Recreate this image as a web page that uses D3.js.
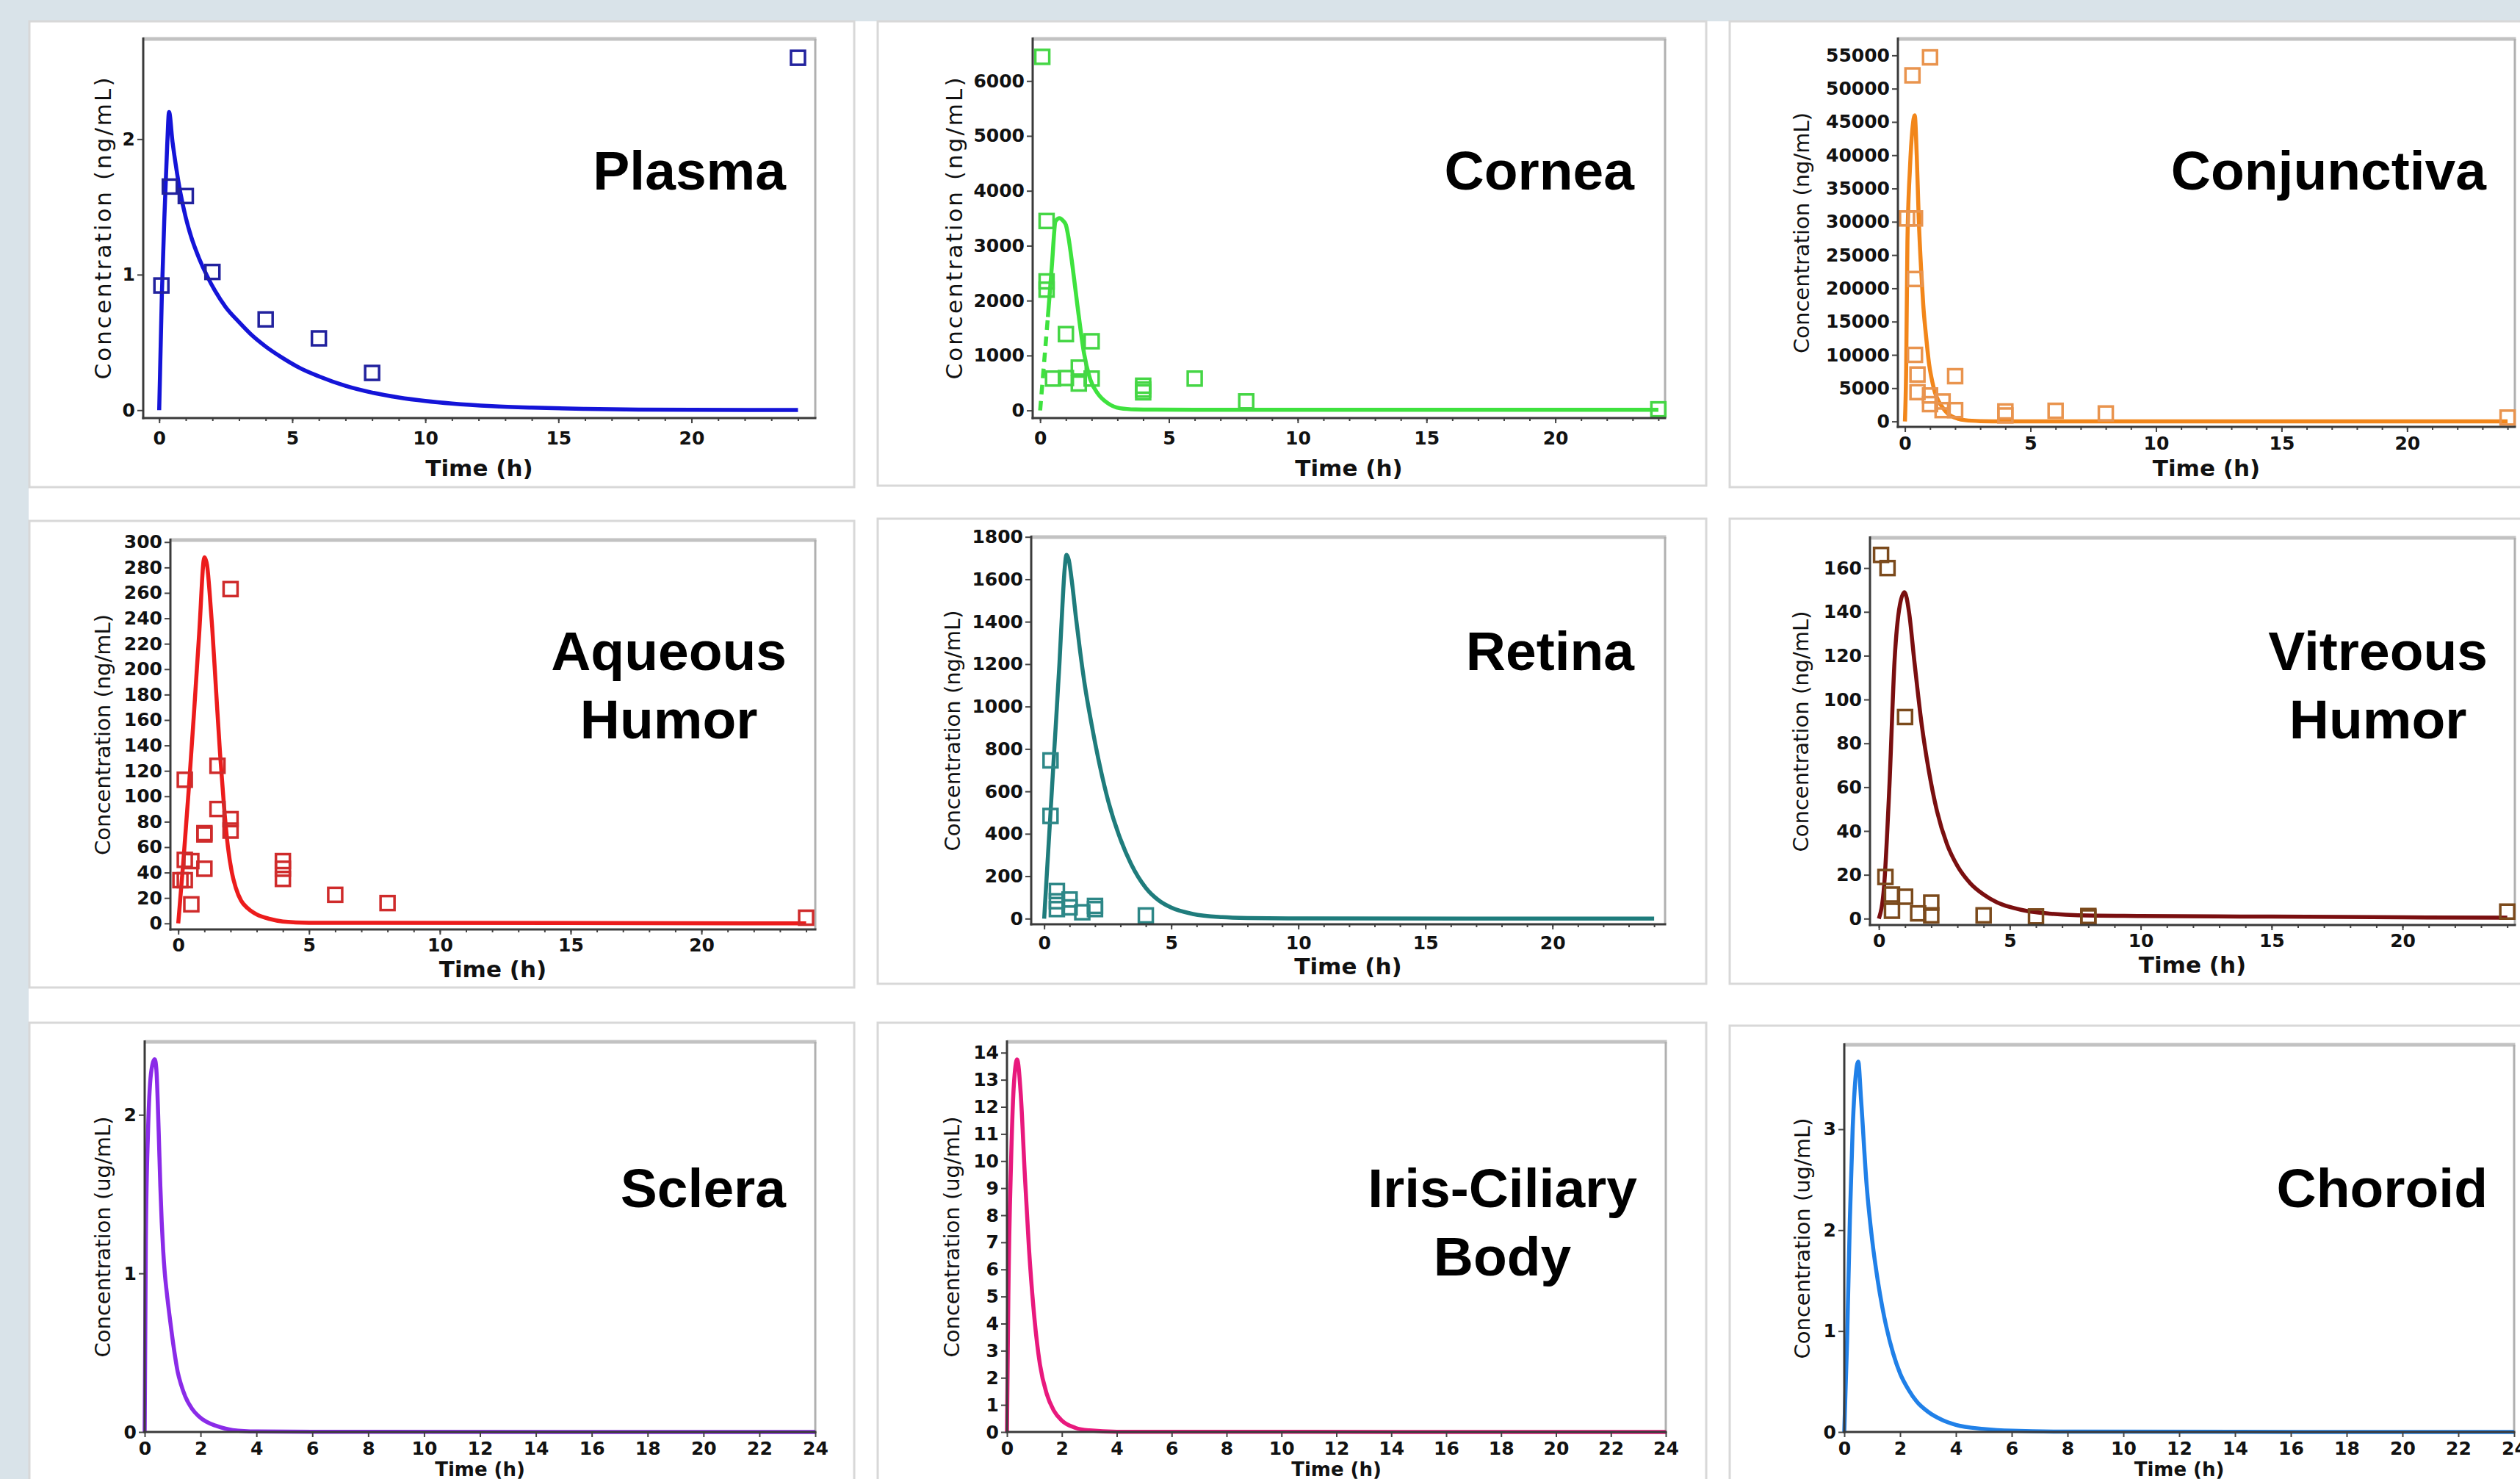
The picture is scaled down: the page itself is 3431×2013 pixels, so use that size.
<!DOCTYPE html>
<html><head><meta charset="utf-8">
<script src="https://cdn.jsdelivr.net/npm/d3@7"></script>
<style>
html,body{margin:0;padding:0;background:#fff;overflow:hidden;}
svg{display:block;}
</style></head><body>
<svg id="chart" width="3431" height="2013"></svg>
<script>
// ---------------- DATA ----------------
const tissueTitles = [["Plasma"],["Cornea"],["Conjunctiva"],["Aqueous","Humor"],["Retina"],["Vitreous","Humor"],["Sclera"],["Iris-Ciliary","Body"],["Choroid"]];
const yAxisTitles = ["Concentration (ng/mL)","Concentration (ng/mL)","Concentration (ng/mL)","Concentration (ng/mL)","Concentration (ng/mL)","Concentration (ng/mL)","Concentration (ug/mL)","Concentration (ug/mL)","Concentration (ug/mL)"];
const xAxisTitle = "Time (h)";

const timeTicksCoarse = [0,5,10,15,20];
const timeTicksFine = [0,2,4,6,8,10,12,14,16,18,20,22,24];
const timeMinorTicks = [0,1,2,3,4,5,6,7,8,9,10,11,12,13,14,15,16,17,18,19,20,21,22,23,24];

const plasmaYTicks = [0,1,2];
const corneaYTicks = [0,1000,2000,3000,4000,5000,6000];
const conjYTicks = [0,5000,10000,15000,20000,25000,30000,35000,40000,45000,50000,55000];
const aqueousYTicks = [0,20,40,60,80,100,120,140,160,180,200,220,240,260,280,300];
const retinaYTicks = [0,200,400,600,800,1000,1200,1400,1600,1800];
const vitreousYTicks = [0,20,40,60,80,100,120,140,160];
const scleraYTicks = [0,1,2];
const irisYTicks = [0,1,2,3,4,5,6,7,8,9,10,11,12,13,14];
const choroidYTicks = [0,1,2,3];

// observed
const plasmaObsTime = [0.083,0.4,1,2,4,6,8,24];
const plasmaObsConc = [0.92,1.65,1.58,1.02,0.67,0.53,0.275,2.6];
const corneaObsTime = [0.083,0.25,0.25,0.25,0.5,1,1,1.5,1.5,2,2,4,4,4,6,8,24];
const corneaObsConc = [6440,3450,2350,2200,580,590,1390,780,490,1260,580,450,380,330,580,165,20];
const conjObsTime = [0.3,1,0.083,0.4,0.4,0.4,0.5,0.5,1,1,1.5,1.5,2,2,4,4,6,8,24];
const conjObsConc = [52000,54700,30500,30500,21400,10000,7050,4400,3900,2600,3000,1700,6800,1700,1500,900,1600,1200,580];
const aqueousObsTime = [2,0.25,1.5,1.5,2,2,1,1,0.25,0.5,1,0.083,0.25,0.5,4,4,4,6,8,24];
const aqueousObsConc = [263,113,124,90,82,73,71,70,50,49,43,34,34,15,49,43,35,22.5,16,4.5];
const retinaObsTime = [0.25,0.25,0.5,0.5,0.5,1,1,1.5,2,2,4];
const retinaObsConc = [746,484,130,82,45,90,53,30,45,60,15];
const vitreousObsTime = [0.083,0.33,1,0.25,0.5,0.5,1,1.5,2,2,4,6,8,8,24];
const vitreousObsConc = [166,160,92,19,11,3.6,10,2.4,7.3,1.5,1.5,1,0.6,1.2,3.2];

// predicted
const plasmaPredTime = [0,0.1,0.2,0.3,0.37,0.5,0.6,0.8,1.0,1.2,1.5,1.8,2.1,2.5,3,3.5,4,4.6,5.3,6,7,8,9,10,11,12.5,14,16,18,20,24];
const plasmaPredConc = [0,0.85,1.45,1.95,2.2,1.98,1.84,1.6,1.42,1.28,1.12,0.99,0.88,0.76,0.65,0.55,0.47,0.39,0.31,0.25,0.18,0.13,0.094,0.068,0.049,0.03,0.019,0.01,0.005,0.0027,0.001];
const corneaPredTime = [0,0.15,0.3,0.45,0.6,0.75,0.9,1.0,1.1,1.25,1.45,1.7,1.95,2.25,2.6,3.1,3.7,4.5,6,10,24];
const corneaPredConc = [0,850,1700,2600,3450,3500,3450,3380,3150,2650,1900,1050,560,300,140,40,18,14,12,12,12];
const conjPredTime = [0,0.05,0.1,0.2,0.3,0.39,0.47,0.55,0.65,0.73,0.85,0.96,1.1,1.2,1.35,1.5,1.7,1.85,2.1,2.4,3,4,24];
const conjPredConc = [0,8000,27000,38000,44000,46000,40000,30500,22500,17500,12500,8700,5800,4300,3000,2100,1200,800,420,190,50,10,0];
const aqueousPredTime = [0,0.2,0.4,0.6,0.8,1.0,1.1,1.2,1.3,1.45,1.6,1.75,1.9,2.05,2.2,2.4,2.65,3,3.5,4,5,24];
const aqueousPredConc = [0,50,105,165,228,288,282,260,232,182,133,92,60,40,28,18,12,7,3.5,1.5,0.5,0];
const retinaPredTime = [0,0.2,0.4,0.6,0.72,0.8,0.88,0.97,1.1,1.25,1.42,1.6,1.86,2.2,2.53,3,3.41,4,4.52,5,5.85,7,8,10,24];
const retinaPredConc = [0,400,800,1200,1480,1640,1715,1690,1580,1420,1255,1100,920,715,550,375,260,145,85,52,22,7,3,1,0];
const vitreousPredTime = [0,0.2,0.4,0.6,0.8,0.98,1.15,1.35,1.63,1.9,2.22,2.6,3,3.5,4,4.5,5,5.6,6.5,7.6,10,15,20,24];
const vitreousPredConc = [0,15,60,118,143,149,140,118,89,68,49,34,24,16,11,7.5,5.3,3.6,2.3,1.5,1.2,0.9,0.6,0.4];
const scleraPredTime = [0,0.04,0.12,0.24,0.36,0.42,0.5,0.56,0.61,0.66,0.72,0.79,0.92,1.05,1.18,1.3,1.45,1.7,1.93,2.2,2.54,3.15,4,6,24];
const scleraPredConc = [0,1.2,1.9,2.28,2.35,2.28,1.9,1.55,1.32,1.15,1.0,0.88,0.69,0.52,0.38,0.3,0.225,0.145,0.1,0.065,0.04,0.012,0.003,0.001,0];
const irisPredTime = [0,0.05,0.15,0.25,0.37,0.5,0.65,0.8,1.0,1.2,1.45,1.7,2,2.5,3,4,24];
const irisPredConc = [0,5,10,12.8,13.75,12.5,9.5,6.8,4.2,2.5,1.4,0.8,0.42,0.15,0.06,0.01,0];
const choroidPredTime = [0,0.1,0.2,0.3,0.4,0.5,0.6,0.8,1.0,1.2,1.5,1.75,2.0,2.3,2.6,3,3.5,4,5,6,8,24];
const choroidPredConc = [0,0.9,2.1,3.0,3.5,3.67,3.3,2.45,1.9,1.5,1.05,0.78,0.58,0.42,0.3,0.2,0.12,0.07,0.03,0.012,0.003,0];

// ---------------- LAYOUT / STYLE ----------------
const panels = [
 {box:[40,29,1163,663], plot:[195,53,1110,569], xd:[-0.6,24.65], yd:[-0.058,2.739], yT:plasmaYTicks, xT:timeTicksCoarse, minor:true,
  oT:plasmaObsTime, oC:plasmaObsConc, pT:plasmaPredTime, pC:plasmaPredConc, line:"#1414d8", mark:"#22229e",
  titleRight:1070, titleBase:258, yLabX:140, yLabLen:411, tickBase:36, xLabBase:79, xLabSize:31},
 {box:[1195,29,2323,661], plot:[1406,53,2267,569], xd:[-0.29,24.26], yd:[-139,6766], yT:corneaYTicks, xT:timeTicksCoarse, minor:true,
  oT:corneaObsTime, oC:corneaObsConc, pT:corneaPredTime, pC:corneaPredConc, line:"#3ee23e", mark:"#45d645", dashUntil:0.3,
  titleRight:2225, titleBase:258, yLabX:1299, yLabLen:411, tickBase:36, xLabBase:79, xLabSize:31},
 {box:[2355,29,3445,663], plot:[2584,53,3424,581], xd:[-0.28,24.29], yd:[-817,57470], yT:conjYTicks, xT:timeTicksCoarse, minor:true,
  oT:conjObsTime, oC:conjObsConc, pT:conjPredTime, pC:conjPredConc, line:"#f2861a", mark:"#e9944e",
  titleRight:3385, titleBase:258, yLabX:2453, tickBase:30.5, xLabBase:67, xLabSize:31},
 {box:[40,709,1163,1344], plot:[232,735,1110,1265], xd:[-0.3,24.35], yd:[-4.74,301.6], yT:aqueousYTicks, xT:timeTicksCoarse, minor:true,
  oT:aqueousObsTime, oC:aqueousObsConc, pT:aqueousPredTime, pC:aqueousPredConc, line:"#ec1c1c", mark:"#cf2b2b",
  titleRight:1071, titleBase:912, yLabX:140, tickBase:30, xLabBase:65, xLabSize:31},
 {box:[1195,706,2323,1339], plot:[1404,731,2267,1258], xd:[-0.51,24.43], yd:[-26.7,1799], yT:retinaYTicks, xT:timeTicksCoarse, minor:true,
  oT:retinaObsTime, oC:retinaObsConc, pT:retinaPredTime, pC:retinaPredConc, line:"#1f7c7c", mark:"#2d8787",
  titleRight:2225, titleBase:912, yLabX:1297, tickBase:34, xLabBase:68, xLabSize:31},
 {box:[2355,706,3445,1339], plot:[2546,732,3424,1259], xd:[-0.34,24.29], yd:[-2.92,173.8], yT:vitreousYTicks, xT:timeTicksCoarse, minor:true,
  oT:vitreousObsTime, oC:vitreousObsConc, pT:vitreousPredTime, pC:vitreousPredConc, line:"#7a0f10", mark:"#7b4a1c",
  titleRight:3387, titleBase:912, yLabX:2452, tickBase:30, xLabBase:65, xLabSize:31},
 {box:[40,1392,1163,2040], plot:[197,1418,1110,1949], xd:[0,24], yd:[0,2.46], yT:scleraYTicks, xT:timeTicksFine, minor:false,
  pT:scleraPredTime, pC:scleraPredConc, line:"#8a2be8",
  titleRight:1070, titleBase:1643, yLabX:140, tickBase:31, xLabBase:59.5, xLabSize:26},
 {box:[1195,1392,2323,2040], plot:[1371,1418,2268,1949], xd:[0,24], yd:[0,14.4], yT:irisYTicks, xT:timeTicksFine, minor:false,
  pT:irisPredTime, pC:irisPredConc, line:"#e8197d",
  titleRight:2229, titleBase:1643, yLabX:1296, tickBase:31, xLabBase:59.5, xLabSize:26},
 {box:[2355,1396,3445,2040], plot:[2511,1422,3423,1949], xd:[0,24], yd:[0,3.837], yT:choroidYTicks, xT:timeTicksFine, minor:false,
  pT:choroidPredTime, pC:choroidPredConc, line:"#2080e8",
  titleRight:3387, titleBase:1643, yLabX:2454, tickBase:31, xLabBase:59.5, xLabSize:26}
];

const W = 3431, H = 2013;
const svg = d3.select("#chart");
svg.append("rect").attr("width",W).attr("height",H).attr("fill","#ffffff");
svg.append("rect").attr("x",0).attr("y",0).attr("width",W).attr("height",29).attr("fill","#d9e3e9");
svg.append("rect").attr("x",0).attr("y",0).attr("width",39).attr("height",H).attr("fill","#d9e3e9");

const tickFont = "'DejaVu Sans', Verdana, sans-serif";
const titleFont = "'Liberation Sans', Arial, Helvetica, sans-serif";

panels.forEach((P, i) => {
  const [bx0,by0,bx1,by1] = P.box;
  svg.append("rect").attr("x",bx0).attr("y",by0).attr("width",bx1-bx0).attr("height",by1-by0)
    .attr("fill","#ffffff").attr("stroke","#d8d8d8").attr("stroke-width",3);

  const [L,T,R,B] = P.plot;
  const x = d3.scaleLinear().domain(P.xd).range([L,R]);
  const y = d3.scaleLinear().domain(P.yd).range([B,T]);
  const g = svg.append("g");

  // frame top/right
  g.append("line").attr("x1",L).attr("x2",R+1.5).attr("y1",T).attr("y2",T).attr("stroke","#c2c2c2").attr("stroke-width",5);
  g.append("line").attr("x1",R).attr("x2",R).attr("y1",T).attr("y2",B).attr("stroke","#b0b0b0").attr("stroke-width",3);

  // prediction curve
  const pts = P.pT.map((t,k)=>[t,P.pC[k]]);
  const line = d3.line().x(d=>x(d[0])).y(d=>y(d[1])).curve(d3.curveMonotoneX);
  if (P.dashUntil !== undefined) {
    const a = pts.filter(d=>d[0] <= P.dashUntil);
    const b = pts.filter(d=>d[0] >= P.dashUntil);
    g.append("path").attr("d",line(a)).attr("fill","none").attr("stroke",P.line).attr("stroke-width",5.5).attr("stroke-dasharray","13,9");
    g.append("path").attr("d",line(b)).attr("fill","none").attr("stroke",P.line).attr("stroke-width",5.5).attr("stroke-linejoin","round");
  } else {
    g.append("path").attr("d",line(pts)).attr("fill","none").attr("stroke",P.line).attr("stroke-width",5.5).attr("stroke-linejoin","round");
  }

  // observed markers
  if (P.oT) {
    const obs = P.oT.map((t,k)=>[t,P.oC[k]]);
    const s = 19;
    g.selectAll("rect.obs").data(obs).enter().append("rect").attr("class","obs")
      .attr("x",d=>x(d[0])-s/2).attr("y",d=>y(d[1])-s/2).attr("width",s).attr("height",s)
      .attr("fill","none").attr("stroke",P.mark).attr("stroke-width",3.5);
  }

  // axes
  const ya = g.append("g").attr("transform",`translate(${L},0)`)
    .call(d3.axisLeft(y).tickValues(P.yT).tickSize(8).tickPadding(3).tickFormat(d=>String(d)));
  const xa = g.append("g").attr("transform",`translate(0,${B})`)
    .call(d3.axisBottom(x).tickValues(P.xT).tickSize(7).tickFormat(d=>String(d)));
  if (P.minor) {
    const xm = g.append("g").attr("transform",`translate(0,${B})`)
      .call(d3.axisBottom(x).tickValues(timeMinorTicks).tickSize(4).tickFormat(""));
    xm.select(".domain").remove();
    xm.selectAll("line").attr("stroke","#444").attr("stroke-width",2);
  }
  [ya,xa].forEach(a=>{
    a.select(".domain").remove();
    a.selectAll("line").attr("stroke","#444").attr("stroke-width",2);
    a.selectAll("text").attr("font-family",tickFont).attr("font-size",25).attr("font-weight","bold").attr("fill","#111");
  });
  xa.selectAll("text").attr("y",P.tickBase).attr("dy",null);

  // axis lines
  g.append("line").attr("x1",L).attr("x2",L).attr("y1",T-2).attr("y2",B+1.5).attr("stroke","#3a3a3a").attr("stroke-width",3);
  g.append("line").attr("x1",L-1.5).attr("x2",R+1.5).attr("y1",B).attr("y2",B).attr("stroke","#3a3a3a").attr("stroke-width",3);

  // axis titles
  g.append("text").attr("x",(L+R)/2).attr("y",B+P.xLabBase).attr("text-anchor","middle")
    .attr("font-family",tickFont).attr("font-weight","bold").attr("font-size",P.xLabSize).attr("fill","#111").text(xAxisTitle);
  const yl = g.append("text").attr("transform",`translate(${P.yLabX},${(T+B)/2}) rotate(-90)`)
    .attr("text-anchor","middle").attr("dominant-baseline","central")
    .attr("font-family",tickFont).attr("font-size",P.yLabLen?31:29).attr("fill","#111").text(yAxisTitles[i]);
  if (P.yLabLen) yl.attr("textLength",P.yLabLen).attr("lengthAdjust","spacing");

  // tissue title
  const lines = tissueTitles[i];
  const tg = g.append("g");
  const ts = lines.map((s,k)=>tg.append("text").attr("y",P.titleBase + k*93)
      .attr("font-family",titleFont).attr("font-weight","bold").attr("font-size",75).attr("fill","#000").text(s));
  const widths = ts.map(t=>t.node().getComputedTextLength());
  const maxW = Math.max(...widths);
  ts.forEach(t=>t.attr("x",P.titleRight - maxW/2).attr("text-anchor","middle"));
});
</script>
</body></html>
